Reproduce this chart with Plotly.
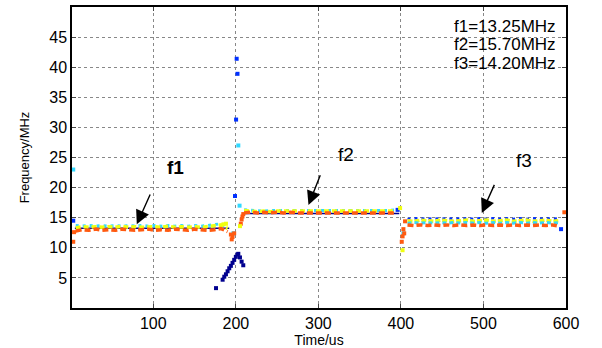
import plotly.graph_objects as go

# ---------------- data ----------------
f_labels = ["f1", "f2", "f3"]
f_values = [13.25, 15.70, 14.20]
seg_start = [5, 208, 404]
seg_end = [192, 398, 596]

t_f1 = [6, 14, 22, 30, 38, 46, 54, 62, 70, 78, 86, 94, 102, 110, 118, 126, 134, 142, 150, 158, 166, 174, 182, 190]
orange_f1 = [12.8, 13.0, 12.9, 13.1, 12.9, 13.0, 12.9, 13.1, 13.0, 12.9, 13.0, 13.1, 12.9, 13.0, 12.9, 13.1, 13.0, 12.9, 13.1, 13.0, 12.9, 13.0, 13.2, 12.7]
yellow_f1 = [13.3, 13.5, 13.4, 13.5, 13.4, 13.5, 13.4, 13.6, 13.4, 13.5, 13.4, 13.5, 13.5, 13.4, 13.6, 13.4, 13.5, 13.4, 13.5, 13.4, 13.5, 13.6, 13.8, 13.2]
cyan_f1 = [13.7, 13.6, 13.7, 13.6, 13.7, 13.6, 13.7, 13.6, 13.7, 13.6, 13.7, 13.6, 13.7, 13.6, 13.7, 13.6, 13.7, 13.6, 13.7, 13.6, 13.7, 13.8, 14.0, 13.4]

t_f2 = [210, 218, 226, 234, 242, 250, 258, 266, 274, 282, 290, 298, 306, 314, 322, 330, 338, 346, 354, 362, 370, 378, 386, 394]
orange_f2 = [15.8, 15.9, 15.8, 15.9, 15.8, 15.9, 15.8, 15.9, 15.8, 15.8, 15.9, 15.8, 15.9, 15.8, 15.9, 15.8, 15.9, 15.8, 15.9, 15.8, 15.9, 15.8, 15.9, 15.8]
yellow_f2 = [16.2, 16.1, 16.0, 16.1, 16.0, 16.1, 16.1, 16.0, 16.1, 16.0, 16.1, 16.0, 16.1, 16.0, 16.1, 16.0, 16.1, 16.0, 16.1, 16.0, 16.1, 16.0, 16.1, 16.2]
cyan_f2 = [16.3, 16.2, 16.2, 16.1, 16.2, 16.2, 16.1, 16.2, 16.2, 16.1, 16.2, 16.2, 16.1, 16.2, 16.2, 16.1, 16.2, 16.2, 16.1, 16.2, 16.2, 16.1, 16.2, 16.3]

t_f3 = [408, 416, 424, 432, 440, 448, 456, 464, 472, 480, 488, 496, 504, 512, 520, 528, 536, 544, 552, 560, 568, 576, 584, 592]
blue_f3 = [14.8, 14.9, 14.8, 14.9, 14.8, 14.9, 14.8, 14.9, 14.8, 14.9, 14.8, 14.9, 14.8, 14.9, 14.8, 14.9, 14.8, 14.9, 14.8, 14.9, 14.8, 14.9, 14.8, 14.9]
yellow_f3 = [14.5, 14.4, 14.6, 14.5, 14.4, 14.6, 14.5, 14.4, 14.5, 14.6, 14.4, 14.5, 14.6, 14.4, 14.5, 14.6, 14.4, 14.5, 14.6, 14.4, 14.5, 14.6, 14.4, 14.5]
cyan_f3 = [14.1, 14.2, 14.1, 14.2, 14.1, 14.2, 14.1, 14.2, 14.1, 14.2, 14.1, 14.2, 14.1, 14.2, 14.1, 14.2, 14.1, 14.2, 14.1, 14.2, 14.1, 14.2, 14.1, 14.2]
orange_f3 = [13.8, 13.7, 13.8, 13.7, 13.8, 13.7, 13.8, 13.7, 13.8, 13.7, 13.8, 13.7, 13.8, 13.7, 13.8, 13.7, 13.8, 13.7, 13.8, 13.7, 13.8, 13.7, 13.8, 13.6]

# scattered / transitional points
dkblue_x = [176, 184, 186, 188, 190, 192, 194, 196, 198, 200, 202, 203, 205, 207, 209]
dkblue_y = [3.3, 4.7, 5.2, 5.6, 6.1, 6.6, 7.0, 7.5, 8.0, 8.5, 8.9, 9.0, 8.4, 7.7, 7.1]
blue_x = [201, 202, 200.3, 199, 3, 396, 594]
blue_y = [41.4, 38.9, 31.3, 18.6, 14.5, 16.3, 13.1]
cyan_x = [203, 204.5, 3, 197, 403]
cyan_y = [27.0, 17.0, 23.0, 12.4, 12.4]
orange_x = [3, 4, 194, 195, 196, 198, 206, 207, 208, 209, 401, 402, 403, 404, 405, 598]
orange_y = [11.0, 12.6, 12.2, 11.4, 11.8, 12.4, 14.0, 14.7, 15.2, 15.6, 11.0, 11.9, 13.1, 12.4, 14.4, 15.9]
yellow_x = [185, 188, 205, 402, 399]
yellow_y = [13.9, 14.0, 13.6, 9.6, 16.6]

label_x = [127, 334, 549]
label_y = [23.4, 25.5, 24.5]
arrow_tail_x = [97, 303, 514]
arrow_tail_y = [19.1, 22.3, 20.7]
arrow_tip_x = [80, 288, 498]
arrow_tip_y = [13.9, 17.1, 15.8]

x_ticks = [100, 200, 300, 400, 500, 600]
y_ticks = [5, 10, 15, 20, 25, 30, 35, 40, 45]

# ---------------- colours ----------------
C_DKBLUE = "#00008f"
C_BLUE = "#0030ff"
C_CYAN = "#30d8ff"
C_YELLOW = "#f0ff10"
C_ORANGE = "#ff5a10"

fig = go.Figure()

def band(x, y, color, dash="4px,2px", width=3):
    fig.add_trace(go.Scatter(x=x, y=y, mode="lines",
                             line=dict(color=color, width=width, dash=dash),
                             hoverinfo="skip", showlegend=False))

# reference lines
for i in range(2):
    fig.add_trace(go.Scatter(x=[seg_start[i], seg_end[i]], y=[f_values[i], f_values[i]],
                             mode="lines", line=dict(color=C_DKBLUE, width=1.5),
                             showlegend=False, hoverinfo="skip"))

band(t_f1, cyan_f1, C_CYAN, "3px,4px", 3)
band(t_f1, yellow_f1, C_YELLOW, "5px,3px", 3.5)
band(t_f1, orange_f1, C_ORANGE, "6px,3px", 3.5)

band(t_f2, cyan_f2, C_CYAN, "3px,4px", 3)
band(t_f2, yellow_f2, C_YELLOW, "5px,3px", 3.5)
band(t_f2, orange_f2, C_ORANGE, "6px,3px", 3.5)

band(t_f3, blue_f3, C_BLUE, "3px,4px", 2.5)
band(t_f3, yellow_f3, C_YELLOW, "5px,2px", 3.5)
band(t_f3, cyan_f3, C_CYAN, "4px,3px", 3)
band(t_f3, orange_f3, C_ORANGE, "6px,3px", 3.5)

def pts(x, y, color, size=4):
    fig.add_trace(go.Scatter(x=x, y=y, mode="markers",
                             marker=dict(color=color, size=size, symbol="square",
                                         line=dict(width=0)),
                             hoverinfo="skip", showlegend=False))

pts(dkblue_x, dkblue_y, C_DKBLUE)
pts(blue_x, blue_y, C_BLUE)
pts(cyan_x, cyan_y, C_CYAN)
pts(orange_x, orange_y, C_ORANGE)
pts(yellow_x, yellow_y, C_YELLOW)

font_main = "Liberation Sans, Arial, sans-serif"

for i in range(3):
    fig.add_annotation(x=label_x[i], y=label_y[i], text=f"<b>{f_labels[i]}</b>" if i == 0 else f_labels[i],
                       showarrow=False,
                       font=dict(family=font_main, size=19, color="black"))
    fig.add_annotation(x=arrow_tip_x[i], y=arrow_tip_y[i], ax=arrow_tail_x[i], ay=arrow_tail_y[i],
                       axref="x", ayref="y", xref="x", yref="y", text="",
                       showarrow=True, arrowhead=2, arrowsize=2, arrowwidth=1.4,
                       arrowcolor="black")

legend_y = [46.7, 43.7, 40.6]
for i in range(3):
    fig.add_annotation(x=462, y=legend_y[i], xanchor="left", showarrow=False,
                       text=f"{f_labels[i]}={f_values[i]:.2f}MHz",
                       font=dict(family=font_main, size=17, color="black"))

fig.update_layout(
    width=602, height=348,
    margin=dict(l=72, r=36, t=5, b=36),
    paper_bgcolor="white", plot_bgcolor="white",
    font=dict(family=font_main, color="black"),
    showlegend=False,
)
fig.update_xaxes(range=[1.5, 600], tickvals=x_ticks, ticks="inside", ticklen=4,
                 showline=True, linecolor="black", linewidth=1.5, mirror="ticks",
                 showgrid=True, gridcolor="#888888", griddash="dot", gridwidth=1,
                 zeroline=False, tickfont=dict(size=16),
                 title=dict(text="Time/us", font=dict(size=14), standoff=1))
fig.update_yaxes(range=[0, 50], tickvals=y_ticks, ticks="inside", ticklen=4,
                 showline=True, linecolor="black", linewidth=1.5, mirror="ticks",
                 showgrid=True, gridcolor="#888888", griddash="dot", gridwidth=1,
                 zeroline=False, tickfont=dict(size=16),
                 title=dict(text="Frequency/MHz", font=dict(size=13), standoff=17))

fig.write_html("out.html", config={"displayModeBar": False},
               post_script="document.body.style.margin='0px';document.body.style.overflow='hidden';")
